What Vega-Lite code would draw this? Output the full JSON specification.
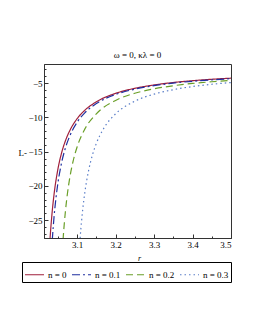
{
  "$schema": "https://vega.github.io/schema/vega-lite/v6.json",
  "width": 187,
  "height": 174,
  "autosize": {"type": "none"},
  "padding": {"left": 44, "top": 64, "right": 24, "bottom": 92},
  "background": "white",
  "title": {"text": "ω = 0, κλ = 0", "font": "Liberation Serif", "fontSize": 9, "fontWeight": "normal", "offset": 4, "color": "black"},
  "config": {
    "view": {"stroke": "#333333", "strokeWidth": 1},
    "axis": {"labelFont": "Liberation Serif", "labelFontSize": 9, "labelColor": "black", "domainColor": "#333333", "tickColor": "#333333", "grid": false, "titleFont": "Liberation Serif", "titleFontWeight": "normal", "titleColor": "black"}
  },
  "data": {"values": [
    {"n": "n = 0", "r": 3.027, "L": -30.2},
    {"n": "n = 0", "r": 3.03, "L": -27.46},
    {"n": "n = 0", "r": 3.035, "L": -23.93},
    {"n": "n = 0", "r": 3.04, "L": -21.29},
    {"n": "n = 0", "r": 3.05, "L": -17.59},
    {"n": "n = 0", "r": 3.06, "L": -15.12},
    {"n": "n = 0", "r": 3.07, "L": -13.36},
    {"n": "n = 0", "r": 3.08, "L": -12.04},
    {"n": "n = 0", "r": 3.1, "L": -10.19},
    {"n": "n = 0", "r": 3.12, "L": -8.96},
    {"n": "n = 0", "r": 3.15, "L": -7.72},
    {"n": "n = 0", "r": 3.2, "L": -6.49},
    {"n": "n = 0", "r": 3.25, "L": -5.75},
    {"n": "n = 0", "r": 3.3, "L": -5.26},
    {"n": "n = 0", "r": 3.35, "L": -4.9},
    {"n": "n = 0", "r": 3.4, "L": -4.64},
    {"n": "n = 0", "r": 3.45, "L": -4.43},
    {"n": "n = 0", "r": 3.5, "L": -4.27},
    {"n": "n = 0.1", "r": 3.033, "L": -30.25},
    {"n": "n = 0.1", "r": 3.036, "L": -27.51},
    {"n": "n = 0.1", "r": 3.04, "L": -24.6},
    {"n": "n = 0.1", "r": 3.045, "L": -21.81},
    {"n": "n = 0.1", "r": 3.05, "L": -19.66},
    {"n": "n = 0.1", "r": 3.06, "L": -16.54},
    {"n": "n = 0.1", "r": 3.07, "L": -14.4},
    {"n": "n = 0.1", "r": 3.08, "L": -12.84},
    {"n": "n = 0.1", "r": 3.1, "L": -10.71},
    {"n": "n = 0.1", "r": 3.12, "L": -9.33},
    {"n": "n = 0.1", "r": 3.15, "L": -7.98},
    {"n": "n = 0.1", "r": 3.2, "L": -6.65},
    {"n": "n = 0.1", "r": 3.25, "L": -5.87},
    {"n": "n = 0.1", "r": 3.3, "L": -5.36},
    {"n": "n = 0.1", "r": 3.35, "L": -4.99},
    {"n": "n = 0.1", "r": 3.4, "L": -4.72},
    {"n": "n = 0.1", "r": 3.45, "L": -4.51},
    {"n": "n = 0.1", "r": 3.5, "L": -4.34},
    {"n": "n = 0.2", "r": 3.06, "L": -31.12},
    {"n": "n = 0.2", "r": 3.064, "L": -27.49},
    {"n": "n = 0.2", "r": 3.07, "L": -23.51},
    {"n": "n = 0.2", "r": 3.075, "L": -21.07},
    {"n": "n = 0.2", "r": 3.08, "L": -19.14},
    {"n": "n = 0.2", "r": 3.09, "L": -16.3},
    {"n": "n = 0.2", "r": 3.1, "L": -14.31},
    {"n": "n = 0.2", "r": 3.12, "L": -11.71},
    {"n": "n = 0.2", "r": 3.15, "L": -9.47},
    {"n": "n = 0.2", "r": 3.2, "L": -7.52},
    {"n": "n = 0.2", "r": 3.25, "L": -6.47},
    {"n": "n = 0.2", "r": 3.3, "L": -5.82},
    {"n": "n = 0.2", "r": 3.35, "L": -5.37},
    {"n": "n = 0.2", "r": 3.4, "L": -5.04},
    {"n": "n = 0.2", "r": 3.45, "L": -4.79},
    {"n": "n = 0.2", "r": 3.5, "L": -4.6},
    {"n": "n = 0.3", "r": 3.104, "L": -30.93},
    {"n": "n = 0.3", "r": 3.108, "L": -27.55},
    {"n": "n = 0.3", "r": 3.115, "L": -23.25},
    {"n": "n = 0.3", "r": 3.12, "L": -21.0},
    {"n": "n = 0.3", "r": 3.13, "L": -17.73},
    {"n": "n = 0.3", "r": 3.14, "L": -15.46},
    {"n": "n = 0.3", "r": 3.15, "L": -13.8},
    {"n": "n = 0.3", "r": 3.17, "L": -11.53},
    {"n": "n = 0.3", "r": 3.2, "L": -9.48},
    {"n": "n = 0.3", "r": 3.25, "L": -7.63},
    {"n": "n = 0.3", "r": 3.3, "L": -6.6},
    {"n": "n = 0.3", "r": 3.35, "L": -5.95},
    {"n": "n = 0.3", "r": 3.4, "L": -5.49},
    {"n": "n = 0.3", "r": 3.45, "L": -5.16},
    {"n": "n = 0.3", "r": 3.5, "L": -4.91}
  ]},
  "layer": [
    {
      "mark": {"type": "line", "clip": true, "strokeWidth": 1.2, "interpolate": "monotone"},
      "encoding": {
        "x": {"field": "r", "type": "quantitative", "scale": {"domain": [3.014, 3.5], "nice": false, "zero": false},
              "axis": {"values": [3.1, 3.2, 3.3, 3.4, 3.5], "format": ".1f", "tickSize": -4, "labelPadding": 6, "title": "r", "titleFontStyle": "italic", "titleFontSize": 8, "titleX": 95, "titleY": 20, "titleBaseline": "middle"}},
        "y": {"field": "L", "type": "quantitative", "scale": {"domain": [-27.6, -2.2], "nice": false, "zero": false},
              "axis": {"values": [-25, -20, -15, -10, -5], "format": "d", "labelExpr": "replace(datum.label, '-', '−')", "tickSize": -4, "labelPadding": 6, "title": "L-", "titleAngle": 0, "titleX": -26, "titleY": 88, "titleAlign": "left", "titleBaseline": "middle", "titleFontSize": 9}},
        "color": {"field": "n", "type": "nominal", "scale": {"domain": ["n = 0", "n = 0.1", "n = 0.2", "n = 0.3"], "range": ["#A0203C", "#1F2FA0", "#6A9F28", "#5A7EC8"]},
                  "legend": {"orient": "none", "legendX": -22, "legendY": 198, "direction": "horizontal", "title": null, "symbolType": "stroke", "symbolSize": 361, "symbolStrokeWidth": 1.2, "labelFont": "Liberation Serif", "labelFontSize": 9, "labelColor": "black", "labelOffset": 3, "columnPadding": 2, "padding": 2, "strokeColor": "black"}},
        "strokeDash": {"field": "n", "type": "nominal", "scale": {"domain": ["n = 0", "n = 0.1", "n = 0.2", "n = 0.3"], "range": [[1, 0], [8, 3, 2, 3], [7, 4], [1.5, 3]]},
                  "legend": {"orient": "none", "legendX": -22, "legendY": 198, "direction": "horizontal", "title": null, "symbolType": "stroke", "symbolSize": 361, "symbolStrokeWidth": 1.2, "labelFont": "Liberation Serif", "labelFontSize": 9, "labelColor": "black", "labelOffset": 3, "columnPadding": 2, "padding": 2, "strokeColor": "black"}}
      }
    },
    {
      "mark": {"type": "line", "opacity": 0, "clip": true},
      "encoding": {
        "x": {"field": "r", "type": "quantitative", "scale": {"domain": [3.014, 3.5], "nice": false, "zero": false},
              "axis": {"orient": "bottom", "values": [3.05, 3.15, 3.25, 3.35, 3.45], "labels": false, "domain": false, "tickSize": -2, "title": null}},
        "y": {"field": "L", "type": "quantitative", "scale": {"domain": [-27.6, -2.2], "nice": false, "zero": false},
              "axis": {"orient": "left", "values": [-27, -26, -24, -23, -22, -21, -19, -18, -17, -16, -14, -13, -12, -11, -9, -8, -7, -6, -4, -3], "labels": false, "domain": false, "tickSize": -2, "title": null}},
        "detail": {"field": "n", "type": "nominal"}
      }
    }
  ],
  "resolve": {"axis": {"x": "independent", "y": "independent"}}
}
